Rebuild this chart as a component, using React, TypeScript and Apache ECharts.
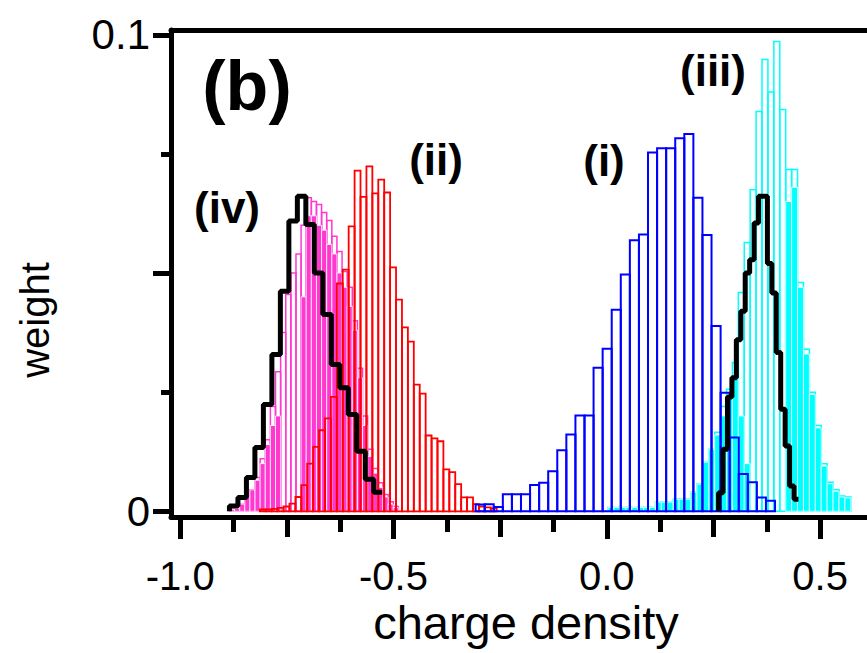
import React, { useEffect, useRef } from "react";
import * as echarts from "echarts";

// ---------- data (x = charge density, y = weight) ----------
const xTickMajor = [-1.0, -0.5, 0.0, 0.5];
const xTickMedium = [-0.75, -0.25, 0.25];
const xTickMinor = [-0.875, -0.625, -0.375, -0.125, 0.125, 0.375];
const yTickMajor = [0, 0.05, 0.1];
const yTickMinor = [0.025, 0.075];
const yTickLabels = [0, 0.1];

// (i) blue histogram
const blueStart = -0.3075;
const blueBin = 0.02127;
const blueWeights = [
  0.0014, 0.0015, 0.0009, 0.0036, 0.0036, 0.0036, 0.0055, 0.006, 0.0084, 0.0128,
  0.0161, 0.0201, 0.0201, 0.0301, 0.0341, 0.0423, 0.0497, 0.0569, 0.0581, 0.0753,
  0.0762, 0.0762, 0.0783, 0.0792, 0.0658, 0.058, 0.0389, 0.0249, 0.0155, 0.0078,
  0.0061, 0.0029, 0.0022,
];

// (ii) red histogram
const redStart = -0.8133;
const redBin = 0.01388;
const redWeights = [
  0.0004, 0.0004, 0.0005, 0.0007, 0.001, 0.0016, 0.003, 0.0055, 0.01, 0.0135,
  0.017, 0.0195, 0.024, 0.0478, 0.0507, 0.0598, 0.0715, 0.066, 0.0724, 0.0667,
  0.0696, 0.0669, 0.0512, 0.0444, 0.0386, 0.0356, 0.0266, 0.0247, 0.0159, 0.0153,
  0.0147, 0.0088, 0.0082, 0.0057, 0.0029, 0.0029, 0.0015, 0.001, 0.0008, 0.0006,
];

// (iv) magenta histograms
const magentaStart = -0.8846;
const magentaBin = 0.012;
const magentaOutline = [
  0.0004, 0.0006, 0.0015, 0.003, 0.0045, 0.0071, 0.011, 0.015, 0.022, 0.0293,
  0.0375, 0.0455, 0.05, 0.054, 0.06, 0.0658, 0.065, 0.0644, 0.0627, 0.061,
  0.0577, 0.0545, 0.0503, 0.047, 0.04, 0.03, 0.02, 0.013, 0.009, 0.006,
  0.0035, 0.002, 0.001,
];
const magentaSolid = [
  0.0004, 0.0006, 0.0015, 0.003, 0.0045, 0.0065, 0.01, 0.014, 0.018, 0.02,
  0, 0, 0, 0, 0.045, 0.062, 0.062, 0.06, 0.059, 0.056,
  0.054, 0.05, 0.047, 0.043, 0.038, 0.028, 0.018, 0.0115, 0.008, 0.005,
  0.003, 0.0015, 0.0008,
];

// (iii) cyan histograms
const cyanStart = 0.003;
const cyanBin = 0.01388;
const cyanOutline = [
  0.0008, 0.0008, 0.0008, 0.0008, 0.0008, 0.0008, 0.0008, 0.0008, 0.0019, 0.0019,
  0.0019, 0.0025, 0.0025, 0.0025, 0.004, 0.0057, 0.0103, 0.013, 0.0166, 0.022,
  0.0256, 0.0312, 0.0459, 0.0564, 0.0675, 0.0839, 0.0948, 0.088, 0.0986, 0.0843,
  0.0717, 0.0717, 0.048, 0.034, 0.025, 0.018, 0.01, 0.0061, 0.0045, 0.0032,
  0.003,
];
const cyanSolid = [
  0.0008, 0.0008, 0.0008, 0.0008, 0.0008, 0.0008, 0.0008, 0.0008, 0.0019, 0.0019,
  0.0019, 0.0025, 0.0025, 0.0025, 0.004, 0.0057, 0.0103, 0.013, 0.016, 0.02,
  0.024, 0.028, 0.02, 0.01, 0, 0, 0, 0, 0, 0,
  0.065, 0.068, 0.047, 0.033, 0.0245, 0.0175, 0.0095, 0.0058, 0.0042, 0.003,
  0.0028,
];

// black outlines
const blackLeftStart = -0.8846;
const blackLeftBin = 0.0199;
const blackLeftWeights = [
  0.0011, 0.0029, 0.0071, 0.0134, 0.0224, 0.0329, 0.0462, 0.0609, 0.0661, 0.0602,
  0.05, 0.0413, 0.0308, 0.0259, 0.0203, 0.0126, 0.0067, 0.004,
];
const blackRightStart = 0.2621;
const blackRightBin = 0.0104;
const blackRightWeights = [
  0.0039, 0.013, 0.024, 0.028, 0.036, 0.042, 0.05, 0.0528, 0.0605, 0.0661,
  0.0661, 0.052, 0.0458, 0.0333, 0.0214, 0.0137, 0.0053, 0.0025,
];

// ---------- helpers ----------
const toBins = (start: number, bin: number, w: number[]) =>
  w
    .map((v, i) => [start + i * bin, start + (i + 1) * bin, v])
    .filter((d) => d[2] > 0);

const toStep = (start: number, bin: number, w: number[]) => {
  const pts: number[][] = [[start, 0]];
  w.forEach((v, i) => {
    pts.push([start + i * bin, v]);
    pts.push([start + (i + 1) * bin, v]);
  });
  return pts;
};

const rectRenderer =
  (fill: string, stroke: string, lineWidth: number) => (params: any, api: any) => {
    const x0 = api.value(0);
    const x1 = api.value(1);
    const h = api.value(2);
    const a = api.coord([x0, h]);
    const b = api.coord([x1, 0]);
    return {
      type: "rect",
      shape: { x: a[0], y: a[1], width: b[0] - a[0], height: b[1] - a[1] },
      style: { fill, stroke, lineWidth },
    };
  };

const histSeries = (
  data: number[][],
  fill: string,
  stroke: string,
  lineWidth: number
) => ({
  type: "custom",
  renderItem: rectRenderer(fill, stroke, lineWidth),
  data,
  encode: { x: [0, 1], y: 2 },
  clip: true,
  silent: true,
});

const FONT = "'Liberation Sans', Arial, Helvetica, sans-serif";
const MAGENTA = "#ff38d0";
const CYAN = "#00ffff";
const RED = "#ff0000";
const BLUE = "#0000ff";

export default function App() {
  const ref = useRef<HTMLDivElement>(null);

  useEffect(() => {
    if (!ref.current) return;
    const chart = echarts.init(ref.current, undefined, { renderer: "svg" });
    const X_MIN = -1.0216;
    const X_MAX = 0.61;
    const baseX = {
      type: "value",
      min: X_MIN,
      max: X_MAX,
      position: "bottom",
      splitLine: { show: false },
    };
    const baseY = {
      type: "value",
      min: -0.0012,
      max: 0.101,
      position: "left",
      splitLine: { show: false },
    };
    const axisLineOn = { show: true, onZero: false, lineStyle: { color: "#000", width: 5 } };
    const axisLineOff = { show: false, onZero: false };
    chart.setOption({
      animation: false,
      backgroundColor: "#ffffff",
      grid: { left: 171, top: 30, width: 697, height: 487, containLabel: false },
      xAxis: [
        {
          ...baseX,
          axisLine: axisLineOn,
          axisTick: {
            show: true,
            customValues: xTickMajor,
            length: 22,
            lineStyle: { color: "#000", width: 5 },
          },
          axisLabel: {
            show: true,
            customValues: xTickMajor,
            formatter: (v: number) => v.toFixed(1),
            fontSize: 40,
            fontFamily: FONT,
            color: "#000",
            margin: 39,
          },
        },
        {
          ...baseX,
          axisLine: axisLineOff,
          axisTick: {
            show: true,
            customValues: xTickMedium,
            length: 20,
            lineStyle: { color: "#000", width: 5 },
          },
          axisLabel: { show: false },
        },
        {
          ...baseX,
          axisLine: axisLineOff,
          axisTick: {
            show: true,
            customValues: xTickMinor,
            length: 15,
            lineStyle: { color: "#000", width: 5 },
          },
          axisLabel: { show: false },
        },
        {
          ...baseX,
          position: "top",
          axisLine: axisLineOn,
          axisTick: { show: false },
          axisLabel: { show: false },
        },
      ],
      yAxis: [
        {
          ...baseY,
          axisLine: axisLineOn,
          axisTick: {
            show: true,
            customValues: yTickMajor,
            length: 18,
            lineStyle: { color: "#000", width: 5 },
          },
          axisLabel: {
            show: true,
            customValues: yTickLabels,
            formatter: (v: number) => (v === 0 ? "0" : String(v)),
            fontSize: 42,
            fontFamily: FONT,
            color: "#000",
            margin: 21,
          },
        },
        {
          ...baseY,
          axisLine: axisLineOff,
          axisTick: {
            show: true,
            customValues: yTickMinor,
            length: 10,
            lineStyle: { color: "#000", width: 5 },
          },
          axisLabel: { show: false },
        },
      ],
      graphic: [
        {
          type: "text",
          x: 247,
          y: 86,
          style: {
            text: "(b)",
            font: `bold 70px ${FONT}`,
            fill: "#000",
            textAlign: "center",
            textVerticalAlign: "middle",
          },
        },
        {
          type: "text",
          x: 227,
          y: 207,
          style: {
            text: "(iv)",
            font: `bold 44px ${FONT}`,
            fill: "#000",
            textAlign: "center",
            textVerticalAlign: "middle",
          },
        },
        {
          type: "text",
          x: 436,
          y: 159,
          style: {
            text: "(ii)",
            font: `bold 44px ${FONT}`,
            fill: "#000",
            textAlign: "center",
            textVerticalAlign: "middle",
          },
        },
        {
          type: "text",
          x: 604,
          y: 160,
          style: {
            text: "(i)",
            font: `bold 44px ${FONT}`,
            fill: "#000",
            textAlign: "center",
            textVerticalAlign: "middle",
          },
        },
        {
          type: "text",
          x: 713,
          y: 70,
          style: {
            text: "(iii)",
            font: `bold 44px ${FONT}`,
            fill: "#000",
            textAlign: "center",
            textVerticalAlign: "middle",
          },
        },
        {
          type: "text",
          x: 35,
          y: 320,
          rotation: Math.PI / 2,
          style: {
            text: "weight",
            font: `40px ${FONT}`,
            fill: "#000",
            textAlign: "center",
            textVerticalAlign: "middle",
          },
        },
        {
          type: "text",
          x: 526,
          y: 622,
          style: {
            text: "charge density",
            font: `47px ${FONT}`,
            fill: "#000",
            textAlign: "center",
            textVerticalAlign: "middle",
          },
        },
      ],
      series: [
        histSeries(toBins(magentaStart, magentaBin, magentaOutline), "none", MAGENTA, 1.5),
        histSeries(toBins(magentaStart, magentaBin, magentaSolid), MAGENTA, "#ffffff", 0.8),
        histSeries(toBins(redStart, redBin, redWeights), "none", RED, 1.8),
        histSeries(toBins(cyanStart, cyanBin, cyanOutline), "none", CYAN, 1.5),
        histSeries(toBins(cyanStart, cyanBin, cyanSolid), CYAN, "#ffffff", 0.8),
        histSeries(toBins(blueStart, blueBin, blueWeights), "none", BLUE, 2),
        {
          type: "line",
          data: toStep(blackLeftStart, blackLeftBin, blackLeftWeights),
          symbol: "none",
          lineStyle: { color: "#000", width: 5 },
          z: 10,
          silent: true,
        },
        {
          type: "line",
          data: toStep(blackRightStart, blackRightBin, blackRightWeights),
          symbol: "none",
          lineStyle: { color: "#000", width: 5 },
          z: 10,
          silent: true,
        },
      ],
    });
    return () => chart.dispose();
  }, []);

  return (
    <div
      ref={ref}
      style={{ position: "fixed", left: 0, top: 0, width: 867, height: 653 }}
    />
  );
}
